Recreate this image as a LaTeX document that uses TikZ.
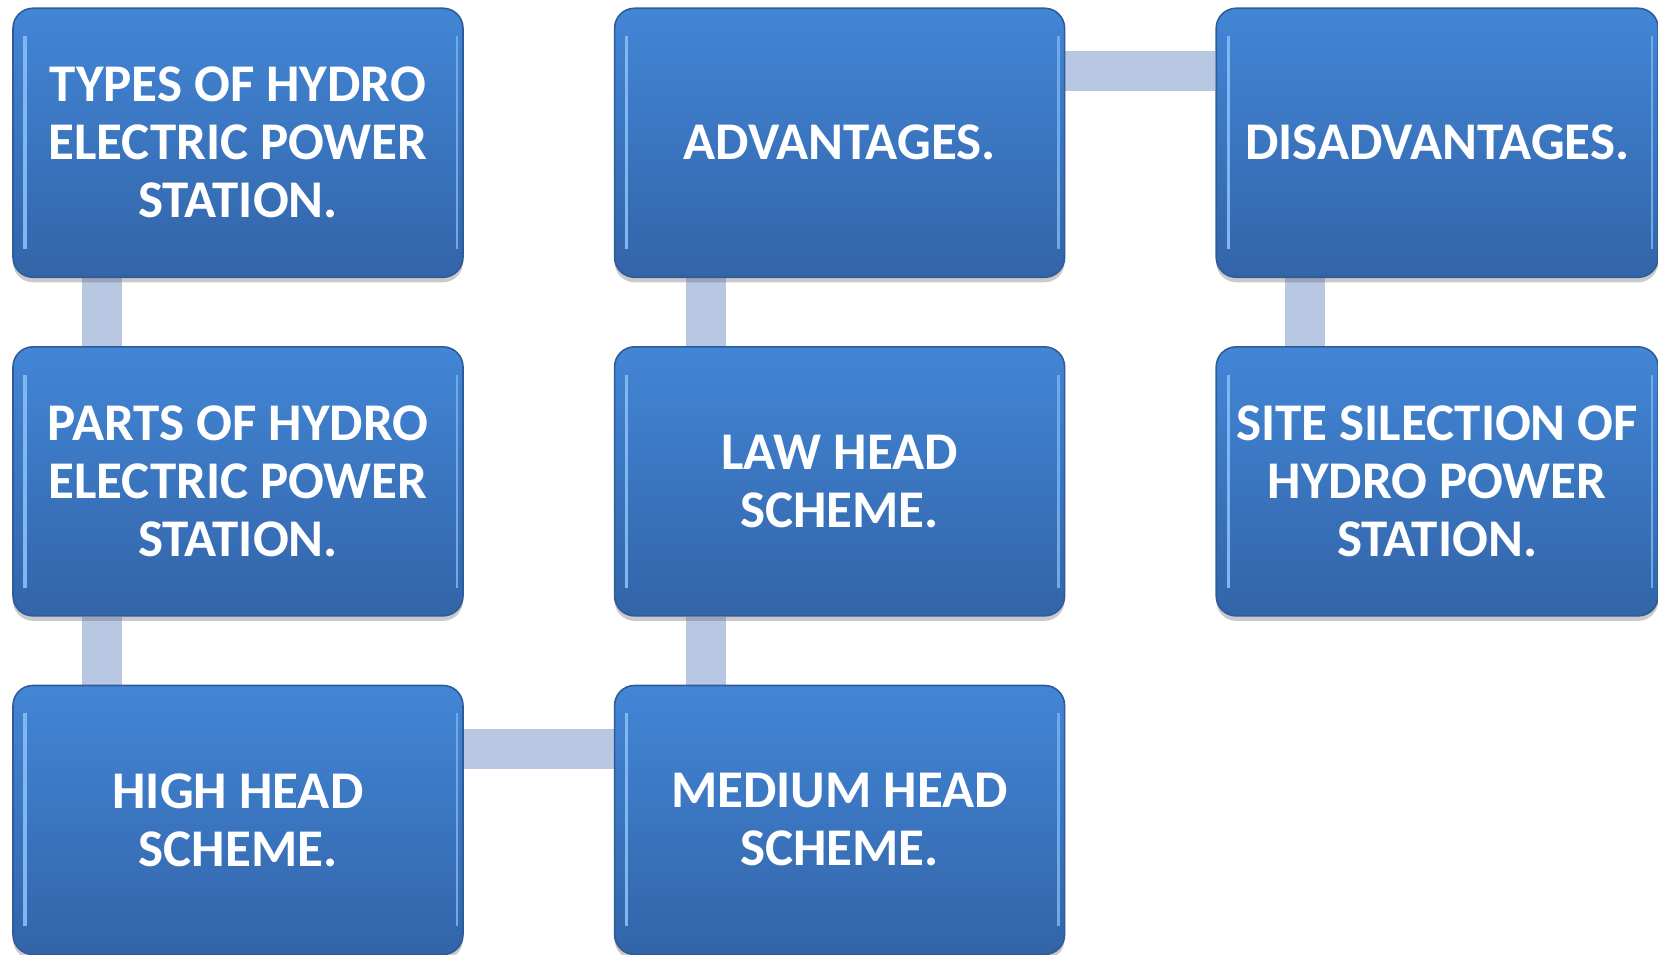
\documentclass[tikz,border=0pt]{standalone}
\usepackage{fontspec}
\setsansfont{Carlito}
\usetikzlibrary{positioning,backgrounds,shadows}
\definecolor{hptop}{HTML}{4286D6}
\definecolor{hpbot}{HTML}{3364A8}
\definecolor{hpedge}{HTML}{2F5C99}
\definecolor{hplink}{HTML}{B8C8E2}
\definecolor{hpshine}{HTML}{8CC0F6}

\begin{document}
\begin{tikzpicture}[x=0.5pt,y=-0.5pt,node distance=34pt and 75pt,
    box/.style={draw=hpedge,line width=0.8pt,rounded corners=10pt,top color=hptop,bottom color=hpbot,
      minimum width=225pt,minimum height=134.5pt,align=center,text=white,
      font=\sffamily\bfseries\fontsize{26.5}{29}\selectfont,
      drop shadow={shadow xshift=0pt,shadow yshift=-2.5pt,opacity=0.35,fill=black!60},
      path picture={
        \draw[hpshine!85!hptop,line width=1.6pt] ([xshift=6pt,yshift=-14pt]path picture bounding box.north west) -- ([xshift=6pt,yshift=14pt]path picture bounding box.south west);
        \draw[hpshine!60!hptop,line width=1.2pt] ([xshift=-3pt,yshift=-14pt]path picture bounding box.north east) -- ([xshift=-3pt,yshift=14pt]path picture bounding box.south east);}},
    link/.style={line width=20pt,hplink}]
    \useasboundingbox (0,0) rectangle (1658,954);
    % left column, top to bottom
    \node[box] (types) at (238,142.75) {TYPES OF HYDRO\\ELECTRIC POWER\\STATION.};
    \node[box,below=of types] (parts) {PARTS OF HYDRO\\ELECTRIC POWER\\STATION.};
    \node[box,below=of parts] (high) {HIGH HEAD\\SCHEME.};
    % middle column, bottom to top
    \node[box,right=of high] (medium) {MEDIUM HEAD\\SCHEME.};
    \node[box,above=of medium] (law) {LAW HEAD\\SCHEME.};
    \node[box,above=of law] (adv) {ADVANTAGES.};
    % right column
    \node[box,right=of adv,minimum width=221pt] (disadv) {DISADVANTAGES.};
    \node[box,below=of disadv,minimum width=221pt] (site) {SITE SILECTION OF\\HYDRO POWER\\STATION.};
    \begin{scope}[on background layer]
      \draw[link] ([xshift=45pt]types.south west) -- ([xshift=45pt]parts.north west);
      \draw[link] ([xshift=45pt]parts.south west) -- ([xshift=45pt]high.north west);
      \draw[link] ([yshift=-32pt]high.north east) -- ([yshift=-32pt]medium.north west);
      \draw[link] ([xshift=46pt]medium.north west) -- ([xshift=46pt]law.south west);
      \draw[link] ([xshift=46pt]law.north west) -- ([xshift=46pt]adv.south west);
      \draw[link] ([yshift=-32pt]adv.north east) -- ([yshift=-32pt]disadv.north west);
      \draw[link] ([xshift=45pt]disadv.south west) -- ([xshift=45pt]site.north west);
    \end{scope}
\end{tikzpicture}
\end{document}
